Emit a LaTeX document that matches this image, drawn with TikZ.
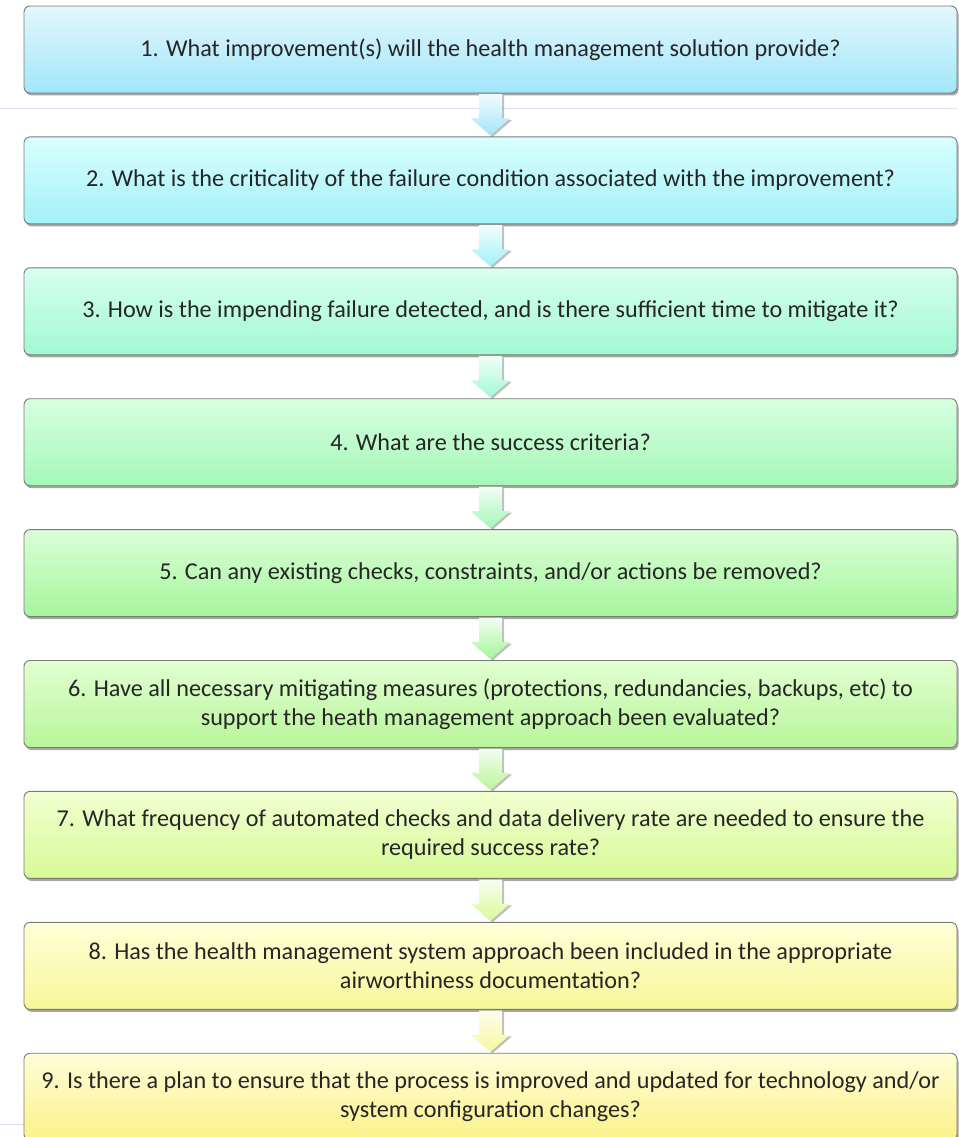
\documentclass[tikz,border=0pt]{standalone}
\usepackage{fontspec}
\setmainfont{Carlito}
\usetikzlibrary{shadows,calc}

% gradient colours of the nine question boxes (top / bottom)
\definecolor{topA}{HTML}{E3F7FD}\definecolor{botA}{HTML}{A2E6FA}
\definecolor{topB}{HTML}{DAFFFF}\definecolor{botB}{HTML}{A3F1F7}
\definecolor{topC}{HTML}{D8FFF0}\definecolor{botC}{HTML}{A2F9D2}
\definecolor{topD}{HTML}{D8FFE0}\definecolor{botD}{HTML}{A5F7B8}
\definecolor{topE}{HTML}{DAFFD8}\definecolor{botE}{HTML}{A6F59C}
\definecolor{topF}{HTML}{E2FFD2}\definecolor{botF}{HTML}{B8F59A}
\definecolor{topG}{HTML}{F0FFD0}\definecolor{botG}{HTML}{D8FA98}
\definecolor{topH}{HTML}{FFFFD8}\definecolor{botH}{HTML}{F8F79A}
\definecolor{topI}{HTML}{FFFDD8}\definecolor{botI}{HTML}{FBF28A}
\definecolor{edgegray}{HTML}{7A7A7A}
\definecolor{txt}{HTML}{262626}
\definecolor{rule}{HTML}{DCE4F0}

\tikzset{
  qbox/.style={draw=edgegray, line width=0.9pt, rounded corners=6pt,
    minimum width=933pt, minimum height=87pt, inner sep=0pt,
    align=center, text=txt, font=\fontsize{24.2}{29}\selectfont,
    drop shadow={shadow xshift=1.5pt, shadow yshift=-2.5pt, opacity=0.35, fill=black}},
  flowarrow/.style={draw=none,
    drop shadow={shadow xshift=2pt, shadow yshift=-1.5pt, opacity=0.25, fill=black}},
}

\begin{document}
\begin{tikzpicture}[x=1pt,y=-1pt]
\useasboundingbox (0,0) rectangle (958,1137);

% faint slide rules
\draw[rule, line width=1.2pt] (0,108.5) -- (958,108.5);
\draw[rule, line width=1pt] (0,1124) -- (24,1124);

\node[qbox, top color=topA, bottom color=botA] (b1) at (490.5,49.5)
  {1. What improvement(s) will the health management solution provide?};
\node[qbox, top color=topB, bottom color=botB] (b2) at (490.5,180.4)
  {2. What is the criticality of the failure condition associated with the improvement?};
\node[qbox, top color=topC, bottom color=botC] (b3) at (490.5,311.3)
  {3. How is the impending failure detected, and is there sufficient time to mitigate it?};
\node[qbox, top color=topD, bottom color=botD] (b4) at (490.5,442.2)
  {4. What are the success criteria?};
\node[qbox, top color=topE, bottom color=botE] (b5) at (490.5,573.1)
  {5. Can any existing checks, constraints, and/or actions be removed?};
\node[qbox, top color=topF, bottom color=botF] (b6) at (490.5,704.0)
  {6. Have all necessary mitigating measures (protections, redundancies, backups, etc) to\\
   support the heath management approach been evaluated?};
\node[qbox, top color=topG, bottom color=botG] (b7) at (490.5,834.9)
  {7. What frequency of automated checks and data delivery rate are needed to ensure the\\
   required success rate?};
\node[qbox, top color=topH, bottom color=botH] (b8) at (490.5,965.8)
  {8. Has the health management system approach been included in the appropriate\\
   airworthiness documentation?};
\node[qbox, top color=topI, bottom color=botI] (b9) at (490.5,1096.7)
  {9. Is there a plan to ensure that the process is improved and updated for technology and/or\\
   system configuration changes?};

% block arrows between consecutive boxes
\foreach \a/\b/\c in {b1/b2/botA, b2/b3/botB, b3/b4/botC, b4/b5/botD,
                      b5/b6/botE, b6/b7/botF, b7/b8/botG, b8/b9/botH} {
  \path[flowarrow, top color=white!85!\c, bottom color=\c]
    ($(\a.south)+(-11.5,0.8)$) -- ($(\a.south)+(11.5,0.8)$)
    -- ($(\a.south)+(11.5,25)$) -- ($(\a.south)+(19.5,25)$)
    -- ($(\b.north)+(0,-1)$)
    -- ($(\a.south)+(-19.5,25)$) -- ($(\a.south)+(-11.5,25)$) -- cycle;
}
\end{tikzpicture}
\end{document}
